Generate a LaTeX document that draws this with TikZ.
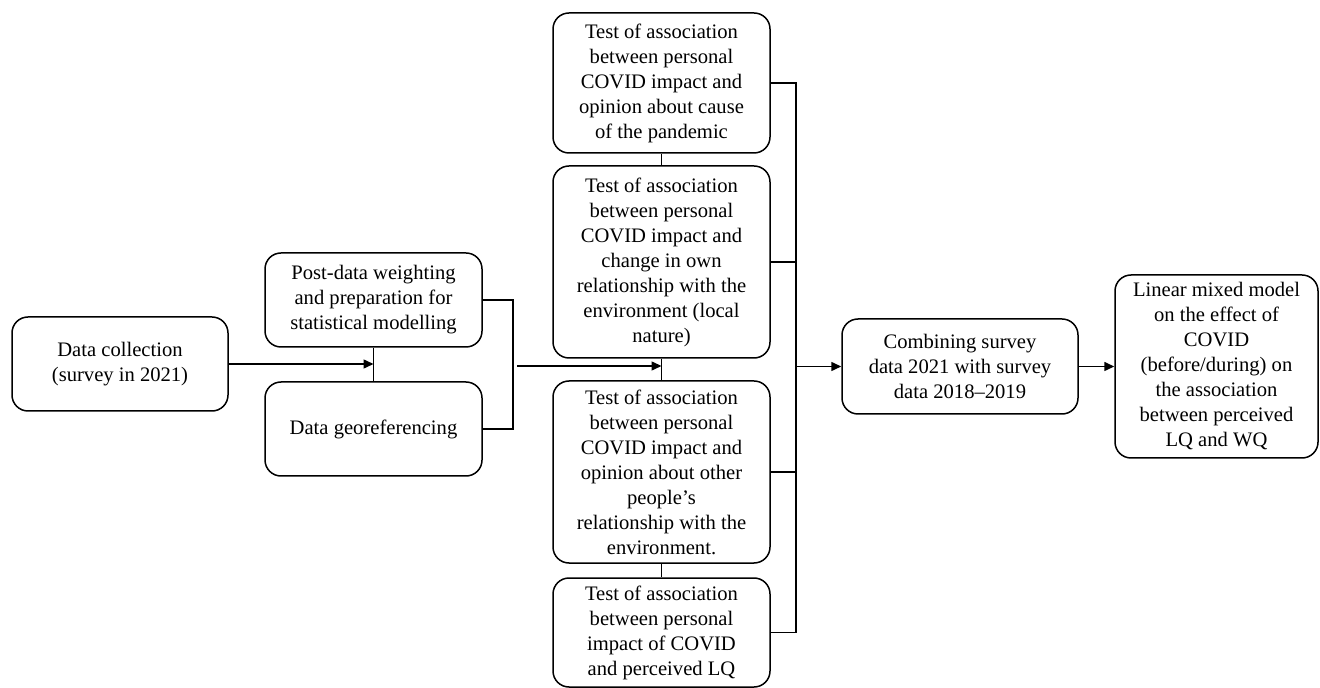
\documentclass[tikz,border=0pt]{standalone}
\usepackage{fontspec}
\setmainfont{Liberation Serif}
\usetikzlibrary{arrows.meta}
\tikzstyle{stage} = [draw,rounded corners=8pt,line width=0.75pt,align=center,inner sep=0pt,minimum width=108.5pt,font=\fontsize{10.3}{12.5}\selectfont]
\tikzstyle{link} = [line width=0.75pt]
\tikzstyle{flow} = [link,-{Triangle[length=5pt,width=4.5pt]}]

\begin{document}
\begin{tikzpicture}[x=0.5pt,y=-0.5pt]
\useasboundingbox (0,0) rectangle (1320,688);

\node[stage,minimum width=108pt,minimum height=47pt] (dc) at (120,364) {Data collection\\(survey in 2021)};
\node[stage,minimum height=47pt] (prep) at (373.5,300) {Post-data weighting\\and preparation for\\statistical modelling};
\node[stage,minimum height=47pt] (geo)  at (373.5,429) {Data georeferencing};

\node[stage,minimum height=70pt]   (t1) at (661.5,83)    {Test of association\\between personal\\COVID impact and\\opinion about cause\\of the pandemic};
\node[stage,minimum height=96pt]   (t2) at (661.5,262)   {Test of association\\between personal\\COVID impact and\\change in own\\relationship with the\\environment (local\\nature)};
\node[stage,minimum height=91pt]   (t3) at (661.5,472)   {Test of association\\between personal\\COVID impact and\\opinion about other\\people’s\\relationship with the\\environment.};
\node[stage,minimum height=54.5pt] (t4) at (661.5,632.5) {Test of association\\between personal\\impact of COVID\\and perceived LQ};

\node[stage,minimum width=118pt,minimum height=47.5pt]   (comb) at (960,366.5)    {Combining survey\\data 2021 with survey\\data 2018--2019};
\node[stage,minimum width=101.5pt,minimum height=91.5pt] (lmm)  at (1216.5,366.5) {Linear mixed model\\on the effect of\\COVID\\(before/during) on\\the association\\between perceived\\LQ and WQ};

\coordinate (bk) at (513,0);
\coordinate (b1) at (517,366);
\coordinate (bus) at (796,0);

\draw[link] (prep) -- (geo);
\draw[flow] (dc.east) -- (dc.east -| prep.south);
\draw[link] (prep.east) -| (bk |- geo.east) -- (geo.east);
\draw[flow] (b1) -- (b1 -| t2.south);

\foreach \a/\b in {t1/t2,t2/t3,t3/t4}
  \draw[link] (\a) -- (\b);

\draw[link] (t1.east) -| (bus |- t4.east) -- (t4.east);
\draw[link] (t2.east) -- (t2.east -| bus);
\draw[link] (t3.east) -- (t3.east -| bus);
\draw[flow] (comb.west -| bus) -- (comb.west);
\draw[flow] (comb) -- (lmm);
\end{tikzpicture}
\end{document}
